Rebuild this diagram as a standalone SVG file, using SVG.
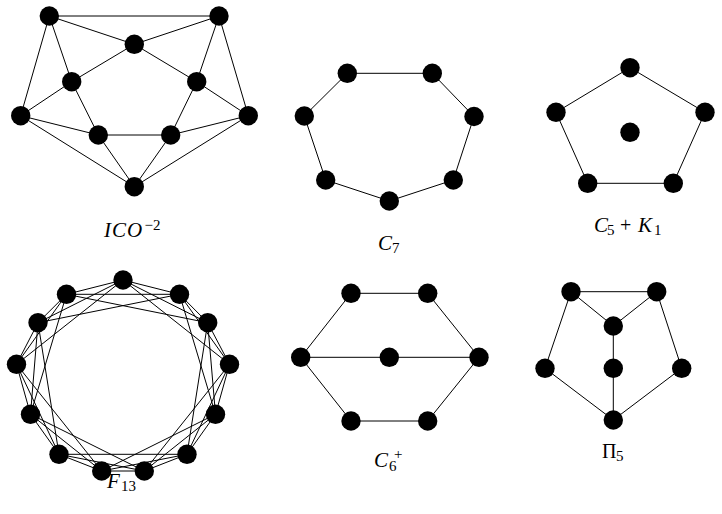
<svg xmlns="http://www.w3.org/2000/svg" width="722" height="514" viewBox="0 0 722 514">
<style>
.n{fill:#000}
.e line{stroke:#000;stroke-width:1}
.mi{font-family:"Liberation Serif",serif;font-style:italic;font-size:21px;fill:#000}
.up{font-family:"Liberation Serif",serif;font-size:20px;fill:#000}
.sub{font-family:"Liberation Serif",serif;font-size:15px;fill:#000}
</style>
<defs><circle id="v" r="9.7" class="n"/></defs>
<rect width="722" height="514" fill="#fff"/>
<g id="connectors" class="e">
<!-- ICO -->
<line x1="49.3" y1="16" x2="219" y2="16"/>
<line x1="49.3" y1="16" x2="134.3" y2="44.3"/>
<line x1="219" y1="16" x2="134.3" y2="44.3"/>
<line x1="49.3" y1="16" x2="71.7" y2="81.7"/>
<line x1="49.3" y1="16" x2="20.7" y2="115.7"/>
<line x1="219" y1="16" x2="196.7" y2="81.7"/>
<line x1="219" y1="16" x2="248.3" y2="115.7"/>
<line x1="134.3" y1="44.3" x2="71.7" y2="81.7"/>
<line x1="134.3" y1="44.3" x2="196.7" y2="81.7"/>
<line x1="71.7" y1="81.7" x2="20.7" y2="115.7"/>
<line x1="71.7" y1="81.7" x2="98.3" y2="135"/>
<line x1="196.7" y1="81.7" x2="248.3" y2="115.7"/>
<line x1="196.7" y1="81.7" x2="170.7" y2="135"/>
<line x1="20.7" y1="115.7" x2="98.3" y2="135"/>
<line x1="20.7" y1="115.7" x2="134.3" y2="186.7"/>
<line x1="248.3" y1="115.7" x2="170.7" y2="135"/>
<line x1="248.3" y1="115.7" x2="134.3" y2="186.7"/>
<line x1="98.3" y1="135" x2="170.7" y2="135"/>
<line x1="98.3" y1="135" x2="134.3" y2="186.7"/>
<line x1="170.7" y1="135" x2="134.3" y2="186.7"/>
<!-- C7 -->
<line x1="347.3" y1="73.3" x2="432.3" y2="73.3"/>
<line x1="432.3" y1="73.3" x2="474" y2="116.5"/>
<line x1="474" y1="116.5" x2="453.3" y2="180"/>
<line x1="453.3" y1="180" x2="389.3" y2="201"/>
<line x1="389.3" y1="201" x2="325.7" y2="180"/>
<line x1="325.7" y1="180" x2="304.3" y2="116"/>
<line x1="304.3" y1="116" x2="347.3" y2="73.3"/>
<!-- C5+K1 -->
<line x1="630" y1="67.7" x2="705" y2="112.3"/>
<line x1="705" y1="112.3" x2="673.3" y2="183.3"/>
<line x1="673.3" y1="183.3" x2="587.7" y2="183.3"/>
<line x1="587.7" y1="183.3" x2="556" y2="112.3"/>
<line x1="556" y1="112.3" x2="630" y2="67.7"/>
<!-- C6+ -->
<line x1="351" y1="293.3" x2="427.7" y2="293.3"/>
<line x1="351" y1="293.3" x2="300.7" y2="357.3"/>
<line x1="427.7" y1="293.3" x2="479" y2="357.3"/>
<line x1="300.7" y1="357.3" x2="479" y2="357.3"/>
<line x1="300.7" y1="357.3" x2="351" y2="421"/>
<line x1="479" y1="357.3" x2="427.7" y2="421"/>
<line x1="351" y1="421" x2="427.7" y2="421"/>
<!-- Pi5 -->
<line x1="571" y1="291.7" x2="656.7" y2="291.7"/>
<line x1="571" y1="291.7" x2="613.3" y2="326"/>
<line x1="656.7" y1="291.7" x2="613.3" y2="326"/>
<line x1="613.3" y1="326" x2="613.3" y2="420"/>
<line x1="571" y1="291.7" x2="545" y2="368.3"/>
<line x1="656.7" y1="291.7" x2="681.7" y2="368.3"/>
<line x1="545" y1="368.3" x2="613.3" y2="420"/>
<line x1="681.7" y1="368.3" x2="613.3" y2="420"/>
<!-- F13: circulant C13(1,2,3) -->
<line x1="123" y1="280" x2="179.5" y2="294.3"/>
<line x1="123" y1="280" x2="207.7" y2="322.7"/>
<line x1="123" y1="280" x2="229.5" y2="364.3"/>
<line x1="179.5" y1="294.3" x2="207.7" y2="322.7"/>
<line x1="179.5" y1="294.3" x2="229.5" y2="364.3"/>
<line x1="179.5" y1="294.3" x2="215.5" y2="414.3"/>
<line x1="207.7" y1="322.7" x2="229.5" y2="364.3"/>
<line x1="207.7" y1="322.7" x2="215.5" y2="414.3"/>
<line x1="207.7" y1="322.7" x2="187" y2="454.3"/>
<line x1="229.5" y1="364.3" x2="215.5" y2="414.3"/>
<line x1="229.5" y1="364.3" x2="187" y2="454.3"/>
<line x1="229.5" y1="364.3" x2="144.3" y2="471"/>
<line x1="215.5" y1="414.3" x2="187" y2="454.3"/>
<line x1="215.5" y1="414.3" x2="144.3" y2="471"/>
<line x1="215.5" y1="414.3" x2="101.7" y2="471"/>
<line x1="187" y1="454.3" x2="144.3" y2="471"/>
<line x1="187" y1="454.3" x2="101.7" y2="471"/>
<line x1="187" y1="454.3" x2="59" y2="454.3"/>
<line x1="144.3" y1="471" x2="101.7" y2="471"/>
<line x1="144.3" y1="471" x2="59" y2="454.3"/>
<line x1="144.3" y1="471" x2="30.5" y2="414.3"/>
<line x1="101.7" y1="471" x2="59" y2="454.3"/>
<line x1="101.7" y1="471" x2="30.5" y2="414.3"/>
<line x1="101.7" y1="471" x2="16.5" y2="364.3"/>
<line x1="59" y1="454.3" x2="30.5" y2="414.3"/>
<line x1="59" y1="454.3" x2="16.5" y2="364.3"/>
<line x1="59" y1="454.3" x2="38" y2="322.7"/>
<line x1="30.5" y1="414.3" x2="16.5" y2="364.3"/>
<line x1="30.5" y1="414.3" x2="38" y2="322.7"/>
<line x1="30.5" y1="414.3" x2="66.5" y2="294.3"/>
<line x1="16.5" y1="364.3" x2="38" y2="322.7"/>
<line x1="16.5" y1="364.3" x2="66.5" y2="294.3"/>
<line x1="16.5" y1="364.3" x2="123" y2="280"/>
<line x1="38" y1="322.7" x2="66.5" y2="294.3"/>
<line x1="38" y1="322.7" x2="123" y2="280"/>
<line x1="38" y1="322.7" x2="179.5" y2="294.3"/>
<line x1="66.5" y1="294.3" x2="123" y2="280"/>
<line x1="66.5" y1="294.3" x2="179.5" y2="294.3"/>
<line x1="66.5" y1="294.3" x2="207.7" y2="322.7"/>
</g>
<g id="ico">
<g id="ico-1"><use href="#v" x="49.3" y="16"/></g>
<g id="ico-2"><use href="#v" x="219" y="16"/></g>
<g id="ico-3"><use href="#v" x="134.3" y="44.3"/></g>
<g id="ico-4"><use href="#v" x="71.7" y="81.7"/></g>
<g id="ico-5"><use href="#v" x="196.7" y="81.7"/></g>
<g id="ico-6"><use href="#v" x="20.7" y="115.7"/></g>
<g id="ico-7"><use href="#v" x="248.3" y="115.7"/></g>
<g id="ico-8"><use href="#v" x="98.3" y="135"/></g>
<g id="ico-9"><use href="#v" x="170.7" y="135"/></g>
<g id="ico-10"><use href="#v" x="134.3" y="186.7"/></g>
</g>
<g id="c7">
<g id="c7-1"><use href="#v" x="347.3" y="73.3"/></g>
<g id="c7-2"><use href="#v" x="432.3" y="73.3"/></g>
<g id="c7-3"><use href="#v" x="474" y="116.5"/></g>
<g id="c7-4"><use href="#v" x="453.3" y="180"/></g>
<g id="c7-5"><use href="#v" x="389.3" y="201"/></g>
<g id="c7-6"><use href="#v" x="325.7" y="180"/></g>
<g id="c7-7"><use href="#v" x="304.3" y="116"/></g>
</g>
<g id="c5k1">
<g id="c5-1"><use href="#v" x="630" y="67.7"/></g>
<g id="c5-2"><use href="#v" x="705" y="112.3"/></g>
<g id="c5-3"><use href="#v" x="673.3" y="183.3"/></g>
<g id="c5-4"><use href="#v" x="587.7" y="183.3"/></g>
<g id="c5-5"><use href="#v" x="556" y="112.3"/></g>
<g id="k1"><use href="#v" x="630" y="132.3"/></g>
</g>
<g id="f13">
<g id="f13-0"><use href="#v" x="123" y="280"/></g>
<g id="f13-1"><use href="#v" x="179.5" y="294.3"/></g>
<g id="f13-2"><use href="#v" x="207.7" y="322.7"/></g>
<g id="f13-3"><use href="#v" x="229.5" y="364.3"/></g>
<g id="f13-4"><use href="#v" x="215.5" y="414.3"/></g>
<g id="f13-5"><use href="#v" x="187" y="454.3"/></g>
<g id="f13-6"><use href="#v" x="144.3" y="471"/></g>
<g id="f13-7"><use href="#v" x="101.7" y="471"/></g>
<g id="f13-8"><use href="#v" x="59" y="454.3"/></g>
<g id="f13-9"><use href="#v" x="30.5" y="414.3"/></g>
<g id="f13-10"><use href="#v" x="16.5" y="364.3"/></g>
<g id="f13-11"><use href="#v" x="38" y="322.7"/></g>
<g id="f13-12"><use href="#v" x="66.5" y="294.3"/></g>
</g>
<g id="c6plus">
<g id="c6-1"><use href="#v" x="351" y="293.3"/></g>
<g id="c6-2"><use href="#v" x="427.7" y="293.3"/></g>
<g id="c6-3"><use href="#v" x="300.7" y="357.3"/></g>
<g id="c6-4"><use href="#v" x="389.3" y="357.3"/></g>
<g id="c6-5"><use href="#v" x="479" y="357.3"/></g>
<g id="c6-6"><use href="#v" x="351" y="421"/></g>
<g id="c6-7"><use href="#v" x="427.7" y="421"/></g>
</g>
<g id="pi5">
<g id="pi5-1"><use href="#v" x="571" y="291.7"/></g>
<g id="pi5-2"><use href="#v" x="656.7" y="291.7"/></g>
<g id="pi5-3"><use href="#v" x="613.3" y="326"/></g>
<g id="pi5-4"><use href="#v" x="613.3" y="368.3"/></g>
<g id="pi5-5"><use href="#v" x="545" y="368.3"/></g>
<g id="pi5-6"><use href="#v" x="681.7" y="368.3"/></g>
<g id="pi5-7"><use href="#v" x="613.3" y="420"/></g>
</g>
<g id="labels">
<text class="mi" x="104" y="237" font-size="22" letter-spacing="1">ICO</text>
<text class="sub" x="144.5" y="230" font-size="14">−2</text>
<text class="mi" x="378" y="250">C</text>
<text class="sub" x="392" y="253">7</text>
<text class="mi" x="594" y="232">C</text>
<text class="sub" x="607" y="235">5</text>
<text class="up" x="620" y="232">+</text>
<text class="mi" x="638" y="232" font-size="22">K</text>
<text class="sub" x="654" y="235">1</text>
<text class="mi" x="107" y="488">F</text>
<text class="sub" x="121" y="491">13</text>
<text class="mi" x="374" y="467">C</text>
<text class="sub" x="389" y="471">6</text>
<text class="sub" x="394" y="459">+</text>
<text class="up" x="602" y="458">Π</text>
<text class="sub" x="616" y="461">5</text>
</g>
</svg>
